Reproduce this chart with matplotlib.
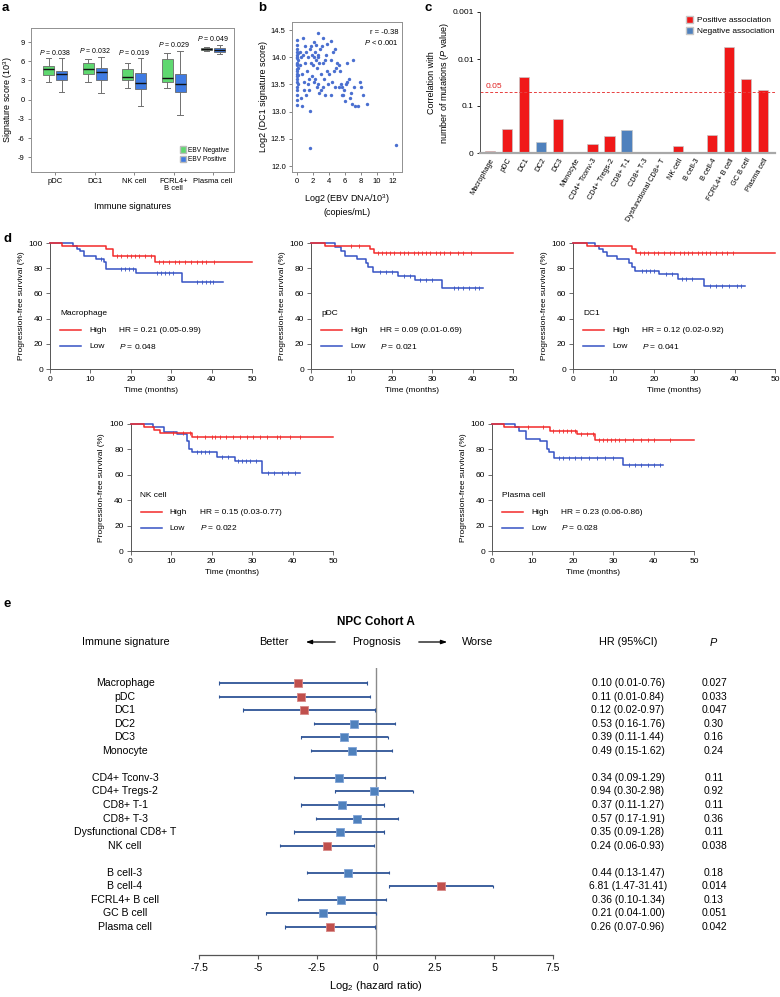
import numpy as np
import matplotlib
matplotlib.use('Agg')
import matplotlib.pyplot as plt
from matplotlib.patches import Patch
import matplotlib.transforms as mtransforms

plt.rcParams['font.family'] = ['Liberation Sans', 'DejaVu Sans']
plt.rcParams['mathtext.fontset'] = 'custom'
plt.rcParams['mathtext.rm'] = 'Liberation Sans'
plt.rcParams['mathtext.it'] = 'Liberation Sans:italic'
plt.rcParams['mathtext.bf'] = 'Liberation Sans:bold'
plt.rcParams['axes.linewidth'] = 0.7
plt.rcParams['axes.unicode_minus'] = False

# ---------------- data ----------------
# panel a : box stats [whislo, q1, median, q3, whishi]
a_cats = ['pDC', 'DC1', 'NK cell', 'FCRL4+\nB cell', 'Plasma cell']
a_neg = [[2.8, 3.9, 4.8, 5.2, 6.5], [2.8, 4.0, 4.8, 5.7, 6.35], [1.9, 3.1, 3.6, 4.8, 5.8],
         [1.8, 2.7, 3.4, 6.35, 7.3], [7.65, 7.75, 7.9, 8.0, 8.2]]
a_pos = [[1.25, 3.1, 4.0, 4.5, 6.5], [1.05, 3.1, 4.4, 4.95, 6.7], [-1.0, 1.7, 2.65, 4.1, 6.5],
         [-2.4, 1.15, 2.45, 3.95, 7.55], [7.1, 7.5, 7.8, 8.1, 8.55]]
a_pvals = ['0.038', '0.032', '0.019', '0.029', '0.049']
a_pval_y = [7.4, 7.65, 7.4, 8.55, 9.6]
a_yticks = [-9, -6, -3, 0, 3, 6, 9]

# panel b : scatter
b_x = [0.0, 0.0, 0.05, 0.0, 0.1, 0.0, 0.05, 0.0, 0.1, 0.0, 0.05, 0.0, 0.1, 0.0, 0.05, 0.0, 0.1, 0.0,
       0.05, 0.0, 0.1, 0.0, 0.05, 0.0, 0.05, 0.0,
       0.4, 0.5, 0.4, 0.5, 0.6, 0.8, 0.8, 0.9, 0.7, 1.0, 1.0, 0.9,
       1.2, 1.3, 1.4, 1.5, 1.5, 1.6, 1.6, 1.7, 1.8, 1.9, 1.9, 1.2, 1.4, 1.8, 2.0,
       2.1, 2.2, 2.2, 2.3, 2.4, 2.4, 2.5, 2.6, 2.6, 2.7, 2.8, 2.8, 2.9, 3.0, 2.5, 2.3, 2.7,
       3.1, 3.2, 3.2, 3.3, 3.4, 3.5, 3.6, 3.7, 3.8, 3.9, 4.0, 3.5, 3.0,
       4.2, 4.3, 4.5, 4.6, 4.4, 4.8, 4.9, 4.7, 5.0, 4.2,
       5.2, 5.3, 5.5, 5.6, 5.8, 5.9, 5.6, 6.0, 5.4,
       6.1, 6.2, 6.3, 6.5, 6.8, 7.0, 6.6, 6.9,
       7.3, 7.6, 7.9, 8.0, 8.3, 8.7, 7.1, 12.4]
b_y = [14.32, 14.22, 14.15, 14.1, 14.08, 14.05, 14.0, 13.98, 13.95, 13.9, 13.88, 13.85, 13.8, 13.78,
       13.75, 13.7, 13.68, 13.65, 13.6, 13.55, 13.5, 13.45, 13.4, 13.3, 13.22, 13.12,
       14.1, 14.0, 13.85, 13.25, 13.1, 14.35, 14.05, 13.4, 13.7, 13.9, 14.2, 13.55,
       14.1, 13.75, 14.0, 13.6, 13.4, 13.02, 12.33, 14.15, 13.9, 14.05, 13.65, 13.3, 13.5, 14.2, 13.85,
       14.28, 14.0, 13.55, 14.1, 13.95, 14.22, 13.8, 14.45, 14.05, 13.5, 13.35, 13.9, 14.15, 13.7,
       13.45, 13.6, 14.0,
       14.2, 13.9, 13.45, 14.35, 13.6, 13.3, 14.05, 13.75, 14.25, 13.5, 13.7, 13.95, 13.4,
       14.3, 13.95, 14.1, 13.75, 13.55, 14.15, 13.8, 13.45, 13.9, 13.3,
       13.85, 13.45, 13.5, 13.45, 13.3, 13.4, 13.3, 13.2, 13.75,
       13.5, 13.9, 13.55, 13.6, 13.35, 13.95, 13.25, 13.15,
       13.1, 13.1, 13.55, 13.45, 13.3, 13.15, 13.45, 12.38]
b_r_text = 'r = -0.38'
b_p_text = '$\\it{P}$ < 0.001'

# panel c : -log10(P) of correlation
c_cats = ['Macrophage', 'pDC', 'DC1', 'DC2', 'DC3', 'Monocyte', 'CD4+ Tconv-3', 'CD4+ Tregs-2',
          'CD8+ T-1', 'CD8+ T-3', 'Dysfunctional CD8+ T', 'NK cell', 'B cell-3', 'B cell-4',
          'FCRL4+ B cell', 'GC B cell', 'Plasma cell']
c_vals = [0.05, 0.52, 1.62, 0.23, 0.73, 0.02, 0.19, 0.37, 0.48, 0.015, 0.015, 0.14, 0.01, 0.39,
          2.25, 1.57, 1.35]
c_positive = [True, True, True, False, True, False, True, True, False, True, False, True, False,
              True, True, True, True]
c_cut = 0.05

# panel d : Kaplan-Meier step data (event times, survival %), end time, censor times
km = [
    dict(name='Macrophage', hr='HR = 0.21 (0.05-0.99)', p='0.048',
         hi_t=[0, 3.0, 13.9, 15.5, 26.0], hi_s=[100, 97.8, 95.6, 89.6, 85.2], hi_end=50,
         hi_c=[16.5, 17.5, 19, 20, 21, 22, 23.5, 25, 27, 28, 29.5, 31, 32, 33.5, 35, 36.5, 37.5, 38.5, 40.5],
         lo_t=[0, 5.8, 6.6, 7.5, 8.3, 11.4, 13.3, 13.9, 21.4, 32.6],
         lo_s=[100, 97.8, 95.6, 93.4, 89.6, 87.3, 84.9, 79.6, 76.3, 68.7], lo_end=42.8,
         lo_c=[12.5, 17.5, 18.5, 19.5, 20.5, 26.5, 27.5, 28.5, 29.5, 30.5, 36.4, 37.5, 38.5, 39.5, 40.4]),
    dict(name='pDC', hr='HR = 0.09 (0.01-0.69)', p='0.021',
         hi_t=[0, 3.4, 14.5, 15.7], hi_s=[100, 97.6, 95.2, 92.3], hi_end=50,
         hi_c=[10, 12, 16.5, 17.5, 18.5, 19.5, 20.5, 22, 23, 24, 25.5, 26.5, 27.5, 28.5, 29.5, 31, 32, 33,
               34.5, 36.5, 37.5, 39.5],
         lo_t=[0, 6.0, 7.5, 8.5, 11.5, 13.5, 14.1, 15.3, 21.5, 25.8, 32.4],
         lo_s=[100, 97.0, 93.8, 89.5, 87.0, 84.0, 80.8, 77.0, 74.2, 70.3, 64.0], lo_end=42.5,
         lo_c=[17, 18.5, 20, 23, 24.5, 27, 28.5, 30, 35.5, 36.5, 37.5, 39, 40.5, 41.5]),
    dict(name='DC1', hr='HR = 0.12 (0.02-0.92)', p='0.041',
         hi_t=[0, 3.5, 14.5, 15.5], hi_s=[100, 97.6, 95.2, 91.7], hi_end=50,
         hi_c=[16.5, 17.5, 18.5, 20, 21, 22.5, 24, 25, 26.5, 27.5, 28.5, 29.5, 31, 32, 33, 34, 35.5, 37,
               38, 39.5],
         lo_t=[0, 5.5, 6.5, 7.5, 8.5, 10.9, 13.8, 14.6, 15.4, 21.4, 25.9, 32.5],
         lo_s=[100, 97.8, 95.5, 93.0, 89.4, 87.0, 84.0, 80.8, 77.7, 75.0, 71.5, 66.0], lo_end=42.5,
         lo_c=[17, 18, 19, 20, 23, 24.5, 27, 28, 29.5, 34, 35.5, 37, 38.5, 40.5, 41.5]),
    dict(name='NK cell', hr='HR = 0.15 (0.03-0.77)', p='0.022',
         hi_t=[0, 3.3, 5.8, 7.3, 15.1], hi_s=[100, 97.4, 95.0, 92.7, 90.1], hi_end=50,
         hi_c=[10.6, 13, 14.7, 16.3, 18.4, 20.0, 20.9, 22.1, 23.7, 25.4, 27.0, 28.7, 30.3, 32.0, 33.6,
               36.1, 36.9, 39.4, 41.9],
         lo_t=[0, 5.6, 8.3, 11.4, 13.9, 14.5, 15.1, 21.4, 25.8, 32.4],
         lo_s=[100, 97.4, 93.5, 91.9, 87.0, 80.5, 77.8, 73.9, 70.5, 61.4], lo_end=41.8,
         lo_c=[16.5, 17.5, 18.5, 19.5, 22.5, 24, 26.5, 27.5, 28.5, 29.5, 31, 34, 35.5, 37.5, 39, 40.5]),
    dict(name='Plasma cell', hr='HR = 0.23 (0.06-0.86)', p='0.028',
         hi_t=[0, 2.9, 14.3, 21.1, 25.6], hi_s=[100, 97.4, 94.8, 92.2, 87.5], hi_end=50,
         hi_c=[9, 12.5, 15, 16.5, 17.5, 18.5, 19.5, 20.5, 22, 23.5, 25, 26.5, 27.5, 28.5, 29.5, 30.5,
               31.5, 33, 35, 37, 38.5, 40, 44],
         lo_t=[0, 5.8, 6.6, 8.3, 12.0, 13.6, 14.1, 15.3, 32.5],
         lo_s=[100, 97.4, 94.8, 88.3, 86.4, 80.4, 77.8, 73.4, 68.1], lo_end=42.4,
         lo_c=[16.5, 17.5, 19, 20.5, 22, 24, 26, 28, 30, 34, 35.5, 37, 38.5, 40, 41.5]),
]

# panel e : forest plot (HR, lower, upper, P) in three groups
e_groups = [
    ['Macrophage', 'pDC', 'DC1', 'DC2', 'DC3', 'Monocyte'],
    ['CD4+ Tconv-3', 'CD4+ Tregs-2', 'CD8+ T-1', 'CD8+ T-3', 'Dysfunctional CD8+ T', 'NK cell'],
    ['B cell-3', 'B cell-4', 'FCRL4+ B cell', 'GC B cell', 'Plasma cell'],
]
e_hr = [0.10, 0.11, 0.12, 0.53, 0.39, 0.49, 0.34, 0.94, 0.37, 0.57, 0.35, 0.24, 0.44, 6.81, 0.36, 0.21, 0.26]
e_lo = [0.01, 0.01, 0.02, 0.16, 0.11, 0.15, 0.09, 0.30, 0.11, 0.17, 0.09, 0.06, 0.13, 1.47, 0.10, 0.04, 0.07]
e_hi = [0.76, 0.84, 0.97, 1.76, 1.44, 1.62, 1.29, 2.98, 1.27, 1.91, 1.28, 0.93, 1.47, 31.41, 1.34, 1.00, 0.96]
e_p = ['0.027', '0.033', '0.047', '0.30', '0.16', '0.24', '0.11', '0.92', '0.11', '0.36', '0.11', '0.038',
       '0.18', '0.014', '0.13', '0.051', '0.042']
e_xticks = [-7.5, -5, -2.5, 0, 2.5, 5, 7.5]

# ---------------- figure ----------------
W, H = 780, 997
fig = plt.figure(figsize=(W / 100, H / 100), dpi=100)


def px_axes(l, t, r, b):
    return fig.add_axes([l / W, 1 - b / H, (r - l) / W, (b - t) / H])


def fx(x):
    return x / W


def fy(y):
    return 1 - y / H


GRAY = '#707070'
for lab, x, y in [('a', 2, 8), ('b', 258, 8), ('c', 425, 8), ('d', 3, 239), ('e', 3, 604)]:
    fig.text(fx(x), fy(y), lab, fontsize=9.5, fontweight='bold', ha='left', va='center')

# ---- panel a ----
ax = px_axes(31, 28, 234, 172)
pos = np.arange(len(a_cats))


def mkstats(rows):
    return [dict(whislo=r[0], q1=r[1], med=r[2], q3=r[3], whishi=r[4], fliers=[]) for r in rows]


for rows, off, col in [(a_neg, -0.165, '#5fd870'), (a_pos, 0.165, '#3f7be3')]:
    ax.bxp(mkstats(rows), positions=pos + off, widths=0.28, patch_artist=True, showfliers=False,
           manage_ticks=False,
           boxprops=dict(facecolor=col, edgecolor='#6a6a6a', lw=0.6),
           medianprops=dict(color='#111111', lw=1.0),
           whiskerprops=dict(color=GRAY, lw=0.7),
           capprops=dict(color=GRAY, lw=0.7), capwidths=0.14)
for i, (p, yy) in enumerate(zip(a_pvals, a_pval_y)):
    ax.text(i, yy, '$\\it{P}$ = ' + p, ha='center', va='center', fontsize=5)
ax.set_xlim(-0.61, 4.53)
ax.set_ylim(-11.3, 11.2)
ax.set_yticks(a_yticks)
ax.set_xticks(pos)
ax.set_xticklabels(a_cats, fontsize=5.5, linespacing=1.0)
ax.tick_params(axis='y', labelsize=5.5, length=2.5, width=0.6, color=GRAY, pad=2)
ax.tick_params(axis='x', length=2.5, width=0.6, color=GRAY, pad=2)
for s in ax.spines.values():
    s.set_color('#909090')
ax.set_ylabel('Signature score (10$^3$)', fontsize=6.5, labelpad=2)
ax.set_xlabel('Immune signatures', fontsize=6.5, labelpad=7)
ax.legend([Patch(facecolor='#5fd870', edgecolor='#bbbbbb'), Patch(facecolor='#3f7be3', edgecolor='#bbbbbb')],
          ['EBV Negative', 'EBV Positive'], loc='lower right', bbox_to_anchor=(1.0, 0.03),
          frameon=False, fontsize=4.8, handlelength=1.0, handleheight=1.1, handletextpad=0.3,
          labelspacing=0.25, borderpad=0.2)

# ---- panel b ----
ax = px_axes(292, 22, 402, 172)
ax.scatter(b_x, b_y, s=6, color='#4a6fd0', linewidths=0, clip_on=False)
ax.set_xlim(-0.6, 13.1)
ax.set_ylim(11.89, 14.65)
ax.set_xticks(range(0, 13, 2))
ax.set_yticks([12.0, 12.5, 13.0, 13.5, 14.0, 14.5])
ax.set_yticklabels(['12.0', '12.5', '13.0', '13.5', '14.0', '14.5'])
ax.tick_params(labelsize=5.5, length=2.5, width=0.6, color=GRAY, pad=2)
for s in ax.spines.values():
    s.set_color('#909090')
ax.text(0.97, 0.93, b_r_text, transform=ax.transAxes, ha='right', va='center', fontsize=5.5)
ax.text(0.97, 0.865, b_p_text, transform=ax.transAxes, ha='right', va='center', fontsize=5.5)
ax.set_ylabel('Log2 (DC1 signature score)', fontsize=6.5, labelpad=2)
ax.set_xlabel('Log2 (EBV DNA/10$^3$)\n(copies/mL)', fontsize=6.5, labelpad=5, linespacing=1.3)

# ---- panel c ----
ax = px_axes(480, 12, 775, 153)
xc = np.arange(len(c_cats))
cols = ['#f01818' if p else '#4f81bd' for p in c_positive]
ax.bar(xc, c_vals, width=0.6, color=cols, edgecolor='#c8c8c8', linewidth=0.5)
ax.set_xlim(-0.59, 16.7)
ax.set_ylim(0, 3)
ax.set_yticks([0, 1, 2, 3])
ax.set_yticklabels(['0', '0.1', '0.01', '0.001'])
cut = -np.log10(c_cut)
ax.axhline(cut, color='#e84040', lw=0.7, ls=(0, (3, 2)))
ax.text(-0.25, cut + 0.05, '0.05', color='#e02020', fontsize=6, ha='left', va='bottom')
ax.set_xticks(xc)
ax.set_xticklabels(c_cats, rotation=60, ha='right', rotation_mode='anchor', fontsize=5.3)
ax.tick_params(axis='y', labelsize=6, length=2.5, width=0.6, pad=2)
ax.tick_params(axis='x', length=0, pad=3)
ax.spines['top'].set_visible(False)
ax.spines['right'].set_visible(False)
ax.spines['bottom'].set_color('#a8a8a8')
ax.spines['bottom'].set_linewidth(1.6)
ax.spines['left'].set_color('#555555')
fig.text(fx(439), fy(83), 'Correlation with\nnumber of mutations ($\\it{P}$ value)', rotation=90,
         ha='center', va='center', fontsize=6.5, multialignment='center', linespacing=1.25)
ax.legend([Patch(facecolor='#f01818', edgecolor='#c8c8c8'), Patch(facecolor='#4f81bd', edgecolor='#c8c8c8')],
          ['Positive association', 'Negative association'], loc='upper left',
          bbox_to_anchor=(fx(685), fy(15)), bbox_transform=fig.transFigure,
          frameon=False, fontsize=6, handlelength=0.9, handleheight=0.9, handletextpad=0.4,
          labelspacing=0.3, borderpad=0.1, borderaxespad=0)

# ---- panel d ----
RED, BLUE = '#f22a2a', '#3652c4'
km_boxes = [(50, 243, 252, 369), (311, 243, 513, 369), (573, 243, 775, 369),
            (130.5, 424, 333, 551), (492, 424, 694, 551)]


def survival_at(t, s, c):
    idx = np.searchsorted(t, c, side='right') - 1
    return np.asarray(s)[idx]


for d, box in zip(km, km_boxes):
    ax = px_axes(*box)
    for key, col in [('lo', BLUE), ('hi', RED)]:
        t = d[key + '_t']
        s = d[key + '_s']
        tt = list(t) + [d[key + '_end']]
        ss = list(s) + [s[-1]]
        ax.step(tt, ss, where='post', color=col, lw=1.1, clip_on=False, zorder=3)
        cens = d[key + '_c']
        ax.plot(cens, survival_at(t, s, cens), ls='none', marker='|', ms=3, mew=0.6, color=col,
                clip_on=False, zorder=3)
    ax.set_xlim(0, 50)
    ax.set_ylim(0, 100)
    ax.set_xticks(range(0, 51, 10))
    ax.set_yticks(range(0, 101, 20))
    ax.tick_params(labelsize=6, length=3, width=0.6, color='#555555', pad=2)
    ax.spines['top'].set_visible(False)
    ax.spines['right'].set_visible(False)
    for s in ['left', 'bottom']:
        ax.spines[s].set_color('#555555')
    ax.set_xlabel('Time (months)', fontsize=6, labelpad=3)
    ax.set_ylabel('Progression-free survival (%)', fontsize=6, labelpad=3)
    wpx = box[2] - box[0]
    hpx = box[3] - box[1]
    ax.text(10 / wpx, 56 / hpx, d['name'], transform=ax.transAxes, fontsize=6, va='center')
    ax.plot([10 / wpx, 31 / wpx], [39 / hpx, 39 / hpx], color=RED, lw=1.1, transform=ax.transAxes,
            clip_on=False)
    ax.plot([10 / wpx, 31 / wpx], [23 / hpx, 23 / hpx], color=BLUE, lw=1.1, transform=ax.transAxes,
            clip_on=False)
    ax.text(39 / wpx, 39 / hpx, 'High', transform=ax.transAxes, fontsize=6, va='center')
    ax.text(39 / wpx, 23 / hpx, 'Low', transform=ax.transAxes, fontsize=6, va='center')
    ax.text(69 / wpx, 39 / hpx, d['hr'], transform=ax.transAxes, fontsize=6, va='center')
    ax.text(69 / wpx, 23 / hpx, '$\\it{P}$ = ' + d['p'], transform=ax.transAxes, fontsize=6, va='center')

# ---- panel e ----
names = [n for g in e_groups for n in g]
rows = []
r = 0
for g in e_groups:
    for _ in g:
        rows.append(r)
        r += 1
    r += 1
rows = np.array(rows, dtype=float)
est = np.log2(e_hr)
lo = np.log2(e_lo)
hi = np.log2(e_hi)
sig = np.array([float(p) < 0.05 for p in e_p])

ax = px_axes(199, 668, 553, 955)
ax.set_xlim(-7.5, 7.5)
ax.set_ylim(20.07, -1.107)
ax.axvline(0, color='#8a8a8a', lw=1.0, zorder=1)
ax.hlines(rows, lo, hi, color='#2e5496', lw=1.3, zorder=2)
ax.vlines(lo, rows - 0.12, rows + 0.12, color='#2e5496', lw=0.8, zorder=2)
ax.vlines(hi, rows - 0.12, rows + 0.12, color='#2e5496', lw=0.8, zorder=2)
ax.scatter(est[~sig], rows[~sig], marker='s', s=30, color='#4f81bd', edgecolors='#7fa3d6',
           linewidths=0.6, zorder=3)
ax.scatter(est[sig], rows[sig], marker='s', s=30, color='#c0504d', edgecolors='#d88a88',
           linewidths=0.6, zorder=3)
ax.set_xticks(e_xticks)
ax.set_xticklabels(['-7.5', '-5', '-2.5', '0', '2.5', '5', '7.5'])
ax.tick_params(axis='x', labelsize=7.5, length=3, width=0.8, color='#555555', pad=3)
ax.set_yticks([])
for s in ['top', 'right', 'left']:
    ax.spines[s].set_visible(False)
ax.spines['bottom'].set_color('#555555')
ax.spines['bottom'].set_linewidth(0.9)
ax.set_xlabel('Log$_2$ (hazard ratio)', fontsize=8, labelpad=4)

tr = mtransforms.blended_transform_factory(fig.transFigure, ax.transData)
for n, y, h, l, u, p in zip(names, rows, e_hr, e_lo, e_hi, e_p):
    ax.text(fx(125), y, n, transform=tr, ha='center', va='center', fontsize=7.6, clip_on=False)
    ax.text(fx(628), y, f'{h:.2f} ({l:.2f}-{u:.2f})', transform=tr, ha='center', va='center',
            fontsize=7.4, clip_on=False)
    ax.text(fx(714), y, p, transform=tr, ha='center', va='center', fontsize=7.4, clip_on=False)

fig.text(fx(376), fy(622), 'NPC Cohort A', fontsize=8.5, fontweight='bold', ha='center', va='center')
hy = fy(642)
fig.text(fx(126), hy, 'Immune signature', fontsize=7.8, ha='center', va='center')
fig.text(fx(274), hy, 'Better', fontsize=7.8, ha='center', va='center')
fig.text(fx(376), hy, 'Prognosis', fontsize=7.8, ha='center', va='center')
fig.text(fx(478), hy, 'Worse', fontsize=7.8, ha='center', va='center')
fig.text(fx(628), hy, 'HR (95%CI)', fontsize=7.8, ha='center', va='center')
fig.text(fx(714), hy, '$\\it{P}$', fontsize=7.8, ha='center', va='center')
arrow_kw = dict(arrowstyle='-|>,head_length=0.35,head_width=0.12', color='black', lw=0.9)
fig.add_artist(matplotlib.patches.FancyArrowPatch((fx(338), hy), (fx(303), hy), transform=fig.transFigure,
                                                  mutation_scale=10, **arrow_kw))
fig.add_artist(matplotlib.patches.FancyArrowPatch((fx(416), hy), (fx(450), hy), transform=fig.transFigure,
                                                  mutation_scale=10, **arrow_kw))

fig.savefig('out.png', dpi=100)
